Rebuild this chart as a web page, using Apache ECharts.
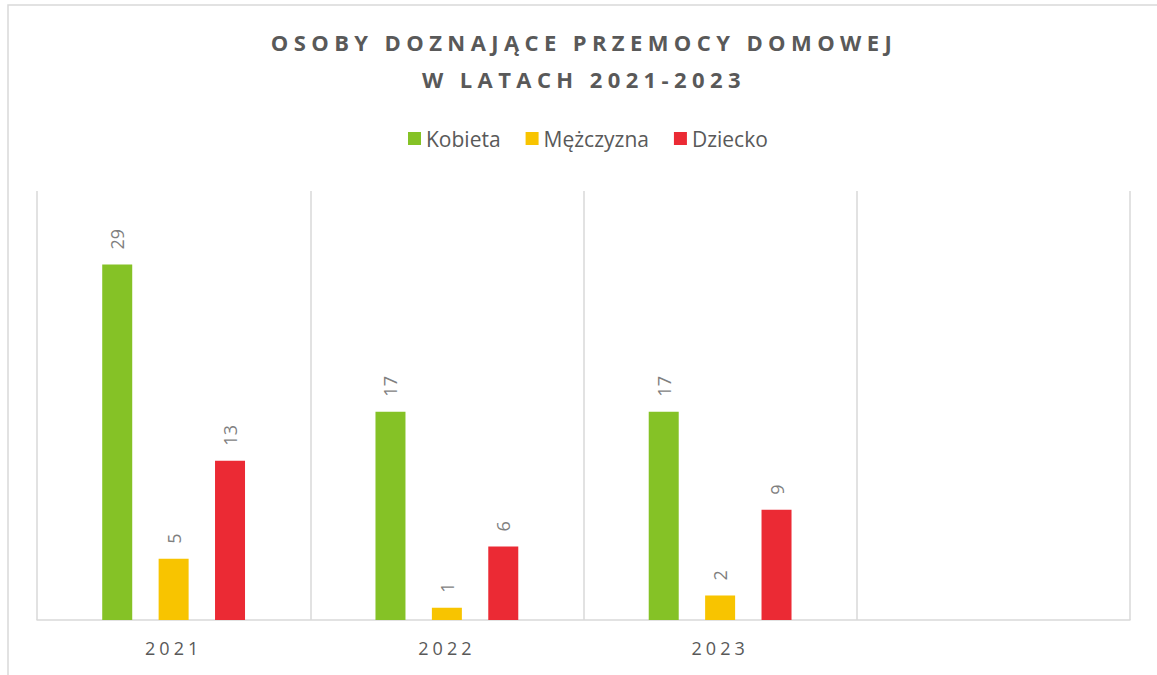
<!DOCTYPE html>
<html><head><meta charset="utf-8">
<script src="https://cdn.jsdelivr.net/npm/echarts@6/dist/echarts.min.js"></script>
<style>html,body{margin:0;padding:0;background:#fff}#c{width:1157px;height:675px}</style>
</head><body><div id="c"></div>
<script>
const categories = ['2021', '2022', '2023', ''];
const kobieta = [29, 17, 17];
const mezczyzna = [5, 1, 2];
const dziecko = [13, 6, 9];
const seriesNames = ['Kobieta', 'Mężczyzna', 'Dziecko'];
const titleLines = ['OSOBY DOZNAJĄCE PRZEMOCY DOMOWEJ', 'W LATACH 2021-2023'];
const colors = ['#85C226', '#F8C400', '#EB2A34'];

const chart = echarts.init(document.getElementById('c'), null, {renderer: 'svg'});
const valueLabel = {
  show: true, position: 'top', rotate: 90, align: 'left', verticalAlign: 'middle',
  distance: 15, color: '#7f7f7f', fontSize: 18, fontFamily: 'Open Sans'
};
const seriesData = [kobieta, mezczyzna, dziecko];
chart.setOption({
  animation: false,
  backgroundColor: '#fff',
  color: colors,
  graphic: [{
    type: 'rect', silent: true, z: -10,
    shape: {x: 8, y: 5, width: 1300, height: 800},
    style: {fill: 'none', stroke: '#d9d9d9', lineWidth: 1.5}
  }],
  title: {
    text: titleLines.join('\n'), left: 579, top: 18, textAlign: 'center',
    textStyle: {fontSize: 22, fontWeight: 'bold', color: '#595959', fontFamily: 'Open Sans', lineHeight: 37}
  },
  legend: {
    top: 128, left: 408, icon: 'rect', itemWidth: 13, itemHeight: 13, itemGap: 25,
    padding: 0,
    textStyle: {fontSize: 21, color: '#595959', fontFamily: 'Open Sans'},
    data: seriesNames
  },
  grid: {left: 37, right: 27, top: 191, bottom: 55, containLabel: false},
  xAxis: {
    type: 'category', data: categories,
    axisLine: {lineStyle: {color: '#d9d9d9', width: 1.5}},
    axisTick: {show: false},
    axisLabel: {margin: 19, fontSize: 18, color: '#595959', fontFamily: 'Open Sans'},
    splitLine: {show: true, interval: 0, lineStyle: {color: '#d9d9d9', width: 1.5}}
  },
  yAxis: {type: 'value', min: 0, max: 35, show: false},
  series: seriesNames.map((n, i) => ({
    name: n, type: 'bar', data: seriesData[i], barWidth: 30, barGap: '88%',
    label: valueLabel
  }))
});
function applySpacing() {
  document.querySelectorAll('#c text').forEach(t => {
    const s = t.textContent;
    if (titleLines.includes(s)) t.setAttribute('letter-spacing', '5.4');
    else if (s && categories.includes(s)) t.setAttribute('letter-spacing', '4');
  });
}
chart.on('finished', applySpacing);
applySpacing();
setTimeout(applySpacing, 0);
</script>
</body></html>
